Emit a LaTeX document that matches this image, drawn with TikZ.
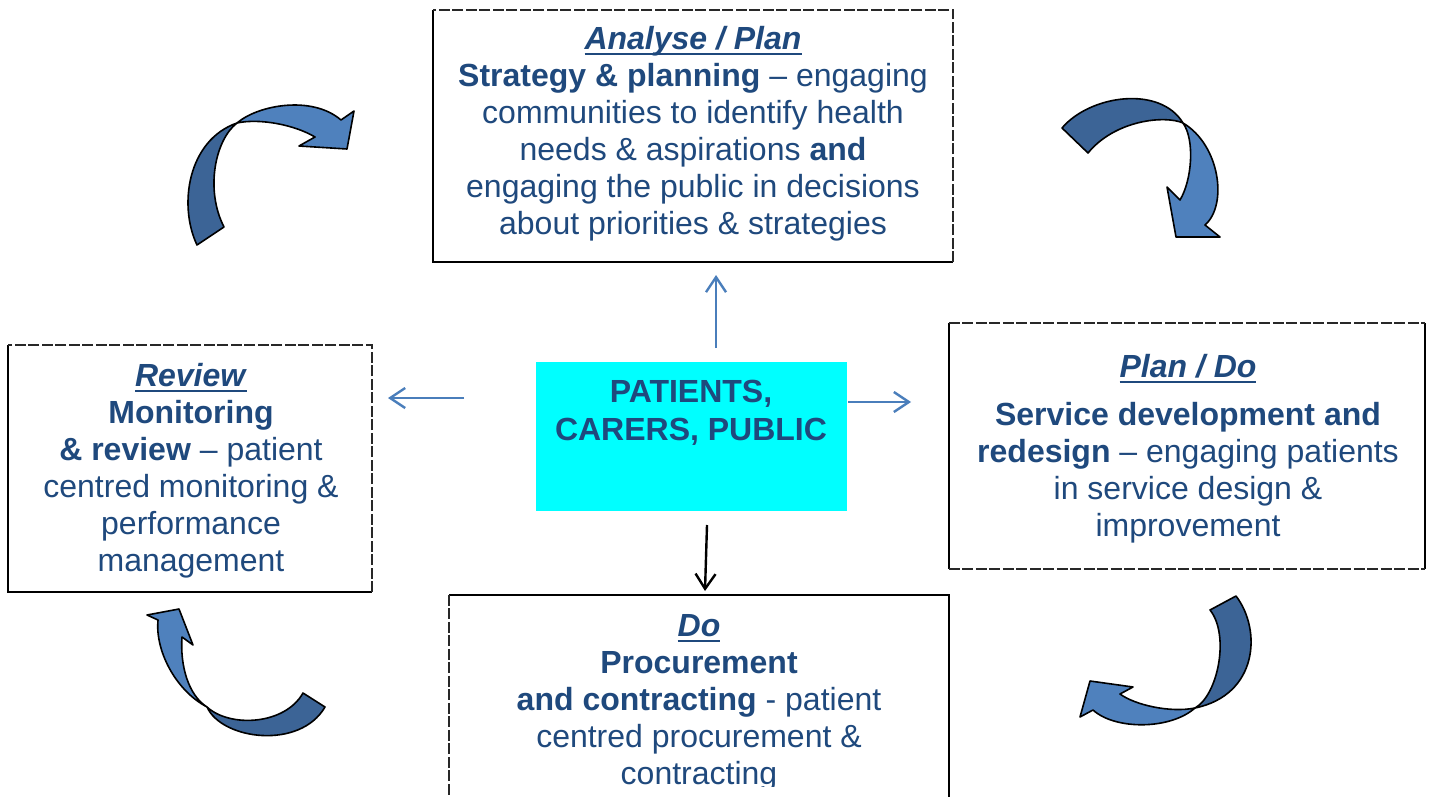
\documentclass[tikz,border=0pt]{standalone}
\usepackage{fontspec}
\setmainfont{Liberation Sans}
\usetikzlibrary{arrows.meta}

\definecolor{inkblue}{RGB}{31,73,125}
\definecolor{rimblue}{RGB}{79,129,189}
\definecolor{backblue}{RGB}{60,100,150}
\definecolor{linkblue}{RGB}{74,126,187}
\definecolor{aqua}{RGB}{0,255,255}
\definecolor{edgegrey}{RGB}{40,40,40}

% bold italic phase title with a flat underline just below the baseline
\newcommand\phasetitle[1]{\setbox0\hbox{\textbf{\textit{#1}}}\rlap{\rule[-5.7pt]{\wd0}{2.3pt}}\box0}

\tikzset{
  panel/.style={inner sep=0, draw=none},
  solidedge/.style={line width=1.8pt, draw=black},
  dashedge/.style={line width=1.6pt, draw=edgegrey, dash pattern=on 11pt off 2.5pt},
  blocktext/.style={align=center, inner sep=0, anchor=north, text=inkblue,
                    font=\fontsize{32}{37}\selectfont},
  link/.style={line width=2.4pt, draw=linkblue, -{Straight Barb[length=15pt,width=20pt]}},
  darklink/.style={line width=2.4pt, draw=black, -{Straight Barb[length=15pt,width=20pt]}},
  ribbonfront/.style={fill=rimblue, draw=black, line width=1.6pt, line join=round},
  ribbonback/.style={fill=backblue, draw=black, line width=1.6pt, line join=round},
}

\begin{document}
\begin{tikzpicture}[x=1pt, y=-1pt]
\useasboundingbox (0,0) rectangle (1431,797);
\clip (0,0) rectangle (1431,797);
\fill[white] (0,0) rectangle (1431,797);

% ---- the four stage panels ----
\node[panel, minimum width=520pt, minimum height=252pt] (analyse) at (693,136) {};
\node[panel, minimum width=476pt, minimum height=246pt] (plando) at (1187,446) {};
\node[panel, minimum width=364pt, minimum height=247pt] (review) at (190,468.5) {};
\node[panel, minimum width=500pt, minimum height=225pt] (doit) at (699,707.5) {};

\draw[solidedge] (analyse.north west) -- (analyse.south west) -- (analyse.south east);
\draw[dashedge] (analyse.south east) -- (analyse.north east) -- (analyse.north west);

\draw[solidedge] (plando.north west) -- (plando.south west);
\draw[solidedge] (plando.north east) -- (plando.south east);
\draw[dashedge] (plando.north west) -- (plando.north east);
\draw[dashedge] (plando.south west) -- (plando.south east);

\draw[solidedge] (review.north west) -- (review.south west) -- (review.south east);
\draw[dashedge] (review.south east) -- (review.north east) -- (review.north west);

\draw[solidedge] (doit.south east) -- (doit.north east) -- (doit.north west);
\draw[dashedge] (doit.north west) -- (doit.south west);

% ---- panel texts ----
\node[blocktext] (analyseText) at (693,23.1) {\strut\phasetitle{Analyse / Plan}\\
  \textbf{Strategy \& planning} – engaging\\
  communities to identify health\\
  needs \& aspirations \textbf{and}\\
  engaging the public in decisions\\
  about priorities \& strategies};

\node[blocktext] (plandoText) at (1188,351.1) {\strut\phasetitle{Plan / Do}\\[11pt]
  \textbf{Service development and}\\
  \textbf{redesign} – engaging patients\\
  in service design \&\\
  improvement};

\node[blocktext] (reviewText) at (191,360.1) {\strut\phasetitle{Review}\\
  \textbf{Monitoring}\\
  \textbf{\& review} – patient\\
  centred monitoring \&\\
  performance\\
  management};

\begin{scope}
  \clip (449,595) rectangle (949,786);
  \node[blocktext] (doText) at (699,610.1) {\strut\phasetitle{Do}\\
    \textbf{Procurement}\\
    \textbf{and contracting} - patient\\
    centred procurement \&\\
    contracting};
\end{scope}

% ---- central hub ----
\node[panel, fill=aqua, minimum width=311pt, minimum height=149pt] (hub) at (691.5,436.5) {};
\node[blocktext, font=\fontsize{32}{38}\selectfont\bfseries] (hubText) at (691,375.6)
  {\strut PATIENTS,\\CARERS, PUBLIC};

% ---- connectors from the hub ----
\coordinate (upFrom) at (716,348);   \coordinate (upTo) at (716,275);
\coordinate (leftFrom) at (464,398); \coordinate (leftTo) at (388,398);
\coordinate (rightFrom) at (848,402);\coordinate (rightTo) at (911,402);
\coordinate (downFrom) at (707,525); \coordinate (downTo) at (705,591);
\draw[link] (upFrom) -- (upTo);
\draw[link] (leftFrom) -- (leftTo);
\draw[link] (rightFrom) -- (rightTo);
\draw[darklink] (downFrom) -- (downTo);

% ---- curved cycle arrows (back face darker, front face lighter) ----
% top left
\draw[ribbonback] (197,245) .. controls (178,205) and (188,140) .. (237,123)
  .. controls (215,140) and (205,190) .. (224,227) -- cycle;
\draw[ribbonfront] (237,123) .. controls (258,105) and (312,95) .. (341,120)
  -- (354,111) -- (347,149) -- (299,146) -- (315,137)
  .. controls (295,125) and (260,118) .. (237,123) -- cycle;

% top right
\draw[ribbonback] (1062,128) .. controls (1090,95) and (1160,85) .. (1183,123)
  .. controls (1165,115) and (1115,120) .. (1088,153) -- cycle;
\draw[ribbonfront] (1183,123) .. controls (1220,145) and (1228,205) .. (1205,225)
  -- (1220,237) -- (1176,237) -- (1167,187) -- (1180,200)
  .. controls (1192,180) and (1195,140) .. (1183,123) -- cycle;

% bottom right
\draw[ribbonback] (1236,596) .. controls (1262,630) and (1258,695) .. (1195,708)
  .. controls (1218,695) and (1230,635) .. (1210,610) -- cycle;
\draw[ribbonfront] (1195,708) .. controls (1170,730) and (1115,730) .. (1093,710)
  -- (1080,717) -- (1090,681) -- (1133,687) -- (1120,694)
  .. controls (1135,705) and (1170,713) .. (1195,708) -- cycle;

% bottom left
\draw[ribbonback] (303,693) .. controls (285,725) and (230,728) .. (207,707)
  .. controls (222,740) and (300,750) .. (325,707) -- cycle;
\draw[ribbonfront] (207,707) .. controls (175,690) and (155,650) .. (158,620)
  -- (147,615) -- (179,609) -- (193,645) -- (182,637)
  .. controls (180,665) and (188,695) .. (207,707) -- cycle;
\end{tikzpicture}
\end{document}
